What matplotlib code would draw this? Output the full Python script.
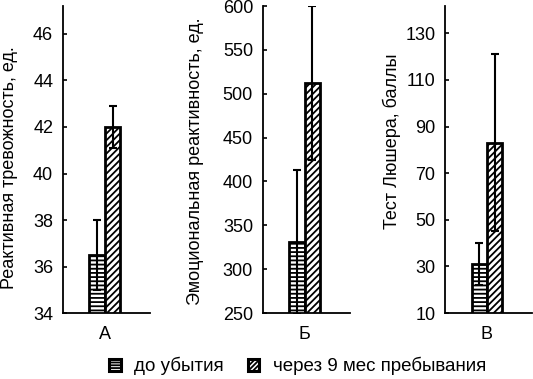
import matplotlib
matplotlib.use('Agg')
import matplotlib.pyplot as plt
from matplotlib.patches import Patch

plt.rcParams['font.family'] = ['Liberation Sans', 'DejaVu Sans']
plt.rcParams['hatch.linewidth'] = 1.3

# --- данные ---
panels = ['А', 'Б', 'В']
ylabels = ['Реактивная тревожность, ед.',
           'Эмоциональная реактивность, ед.',
           'Тест Люшера, баллы']
before_vals = [36.5, 331, 31]
before_err = [1.5, 82, 9]
after_vals = [42.0, 512, 83]
after_err = [0.9, 88, 38]
ylims = [(34, 47.2), (250, 600), (10, 141.7)]
yticks = [list(range(34, 47, 2)), list(range(250, 601, 50)), list(range(10, 131, 20))]
series_names = ['до убытия', 'через 9 мес пребывания']

fig = plt.figure(figsize=(5.33, 3.79), dpi=100)
lefts = [0.118, 0.493, 0.835]
label_pos = [(-0.51, 0.474), (-0.667, 0.494), (-0.507, 0.56)]  # положение подписей осей
w = 0.35

for i in range(3):
    ax = fig.add_axes([lefts[i], 0.174, 0.164, 0.81])
    ax.bar(-w / 2, before_vals[i], width=w, color='white', edgecolor='black',
           linewidth=2, hatch='----')
    ax.bar(w / 2, after_vals[i], width=w, color='white', edgecolor='black',
           linewidth=2, hatch='/////')
    ax.errorbar([-w / 2, w / 2], [before_vals[i], after_vals[i]],
                yerr=[before_err[i], after_err[i]], fmt='none', ecolor='black',
                elinewidth=1.5, capsize=3.2, capthick=1.5, zorder=5)
    ax.set_xlim(-0.95, 1.03)
    ax.set_ylim(*ylims[i])
    ax.set_yticks(yticks[i])
    ax.set_xticks([0])
    ax.set_xticklabels([panels[i]], fontsize=13)
    ax.tick_params(axis='x', length=0, pad=9)
    ax.tick_params(axis='y', direction='in', length=3, width=1.2, labelsize=13, pad=7)
    ax.set_ylabel(ylabels[i], fontsize=13)
    ax.yaxis.set_label_coords(*label_pos[i])
    for s in ['top', 'right']:
        ax.spines[s].set_visible(False)
    for s in ['left', 'bottom']:
        ax.spines[s].set_linewidth(1.3)

handles = [Patch(facecolor='white', edgecolor='black', hatch='------', linewidth=2.2),
           Patch(facecolor='white', edgecolor='black', hatch='///////', linewidth=2.2)]
fig.legend(handles, series_names, loc='center', bbox_to_anchor=(0.558, 0.034),
           ncol=2, frameon=False, fontsize=13.5, handlelength=0.62, handleheight=0.62,
           handletextpad=0.7, columnspacing=1.3, borderpad=0, borderaxespad=0)

fig.savefig('out.png', dpi=100)
